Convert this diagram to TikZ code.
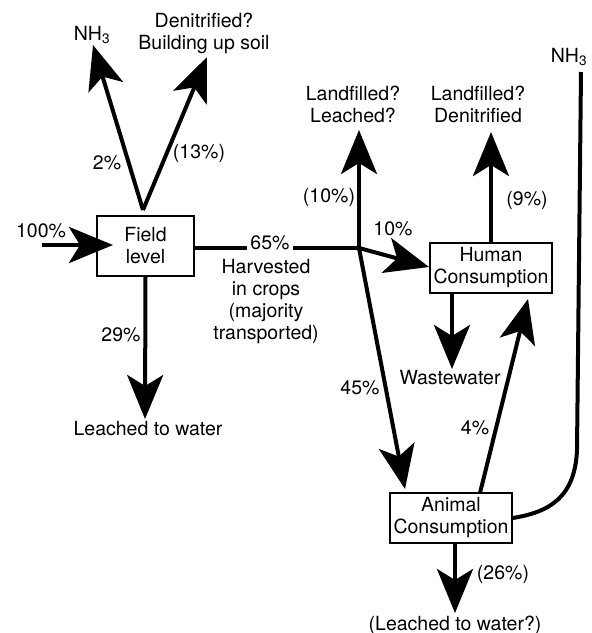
\documentclass[tikz,border=0pt]{standalone}
\usepackage{fontspec}
\setmainfont{TeX Gyre Heros}
\usetikzlibrary{arrows.meta}
\begin{document}
\begin{tikzpicture}[x=1pt,y=-1pt,
  font=\fontsize{19.5}{22}\selectfont,
  flow/.style={line width=4pt, -{Stealth[length=44pt,width=36pt,inset=11pt]}},
  plain/.style={line width=4pt},
  box/.style={draw, line width=1.6pt, align=center, inner sep=0pt},
  lbl/.style={align=center, inner sep=1pt}]
\useasboundingbox (0,0) rectangle (592,633);

% boxes
\node[box, minimum width=97pt, minimum height=60pt] (field) at (145.5,246) {Field\\level};
\node[box, minimum width=122pt, minimum height=50pt] (human) at (491,268) {Human\\Consumption};
\node[box, minimum width=122pt, minimum height=50pt] (animal) at (451,518) {Animal\\Consumption};

% labels
\node[lbl] (nh3a) at (92,35) {NH\textsubscript{3}};
\node[lbl] (denit) at (204,33) {Denitrified?\\Building up soil};
\node[lbl] (lfl) at (353,104) {Landfilled?\\Leached?};
\node[lbl] (lfd) at (478,104) {Landfilled?\\Denitrified};
\node[lbl] (nh3b) at (569,57) {NH\textsubscript{3}};
\node[lbl] (leach) at (148,429) {Leached to water};
\node[lbl] (waste) at (450,378) {Wastewater};
\node[lbl] (leach2) at (455,625) {(Leached to water?)};
\node[lbl] (harv) at (266,302) {Harvested\\in crops\\(majority\\transported)};

% coordinates
\coordinate (fo) at (143,210);
\coordinate (nh3tip) at (93,45);
\coordinate (dentip) at (207,57);
\coordinate (in) at (42,245);
\coordinate (intip) at (113,245);
\coordinate (fe) at (194,248);
\coordinate (jn) at (359,248);
\coordinate (lfltip) at (359,130);
\coordinate (humtip) at (429,267);
\coordinate (anitip) at (405,489);
\coordinate (lfdtip) at (491,132);
\coordinate (hb) at (452,293);
\coordinate (wtip) at (452,369);
\coordinate (at) at (480,493);
\coordinate (a4tip) at (528,299);
\coordinate (nhtop) at (581,72);
\coordinate (ab) at (455,543);
\coordinate (abtip) at (455,613);
\coordinate (fdtip) at (145,419);

% connectors
\draw[flow] (fo) -- (nh3tip);
\draw[flow] (fo) -- (dentip);
\draw[flow] (in) -- (intip);
\draw[plain] (fe) -- (jn);
\draw[flow] (jn) -- (lfltip);
\draw[flow] (jn) -- (humtip);
\draw[flow] (jn) -- (anitip);
\draw[flow] (human.north) -- (lfdtip);
\draw[flow] (hb) -- (wtip);
\draw[flow] (at) -- (a4tip);
\draw[plain] (nhtop) -- (577,450) .. controls (575,497) and (550,512) .. (animal.east);
\draw[flow] (ab) -- (abtip);
\draw[flow] (field.south) -- (fdtip);

% percentage labels
\node[lbl] (p100) at (41,231) {100\%};
\node[lbl] (p2) at (107,163) {2\%};
\node[lbl] (p13) at (199,153) {(13\%)};
\node[lbl, fill=white, inner xsep=3pt] (p65) at (270,243) {65\%};
\node[lbl] (p10a) at (329,197) {(10\%)};
\node[lbl] (p10b) at (393,229) {10\%};
\node[lbl] (p9) at (527,200) {(9\%)};
\node[lbl] (p45) at (360,388) {45\%};
\node[lbl] (p4) at (475,428) {4\%};
\node[lbl] (p29) at (121,335) {29\%};
\node[lbl] (p26) at (503,574) {(26\%)};
\end{tikzpicture}
\end{document}
